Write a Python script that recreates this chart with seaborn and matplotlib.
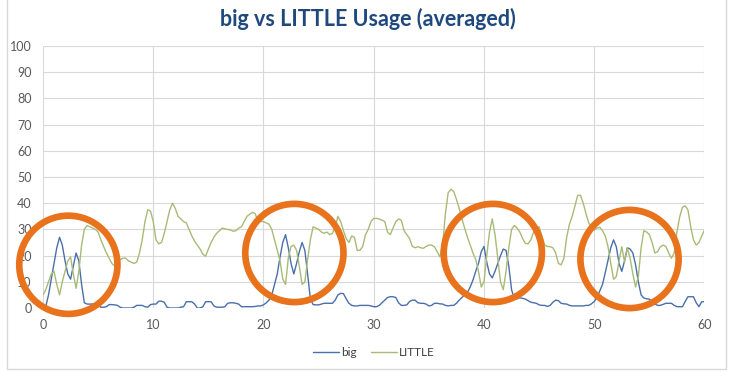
import numpy as np
import pandas as pd
import matplotlib
matplotlib.use('Agg')
import matplotlib.pyplot as plt
import seaborn as sns
from matplotlib.patches import Rectangle

# time axis, one reading every quarter unit
time = np.arange(0, 60.01, 0.25)

# LITTLE cluster usage (%)
little = [
    5, 7, 10, 13, 14, 9, 5, 10, 14, 18, 19.5, 13, 7.5, 14, 24, 30, 31.5, 31, 30.5, 30,
    29, 26, 23.5, 21, 19, 17, 16, 17.5, 18.5, 19, 19, 18, 17.5, 17, 17.5, 21, 26, 33, 37.5, 37,
    33, 26, 24.5, 25, 28.5, 33, 37.5, 40, 38, 35, 34, 33, 32.5, 30, 27.5, 25.5, 24, 22.5, 20.5, 19.8,
    22.5, 25, 27, 28.5, 29.5, 30.5, 30.2, 30, 29.8, 29.3, 29.5, 30.5, 31, 33, 35, 35.8, 36.5, 36, 33, 33,
    33, 32.5, 32, 30, 26, 22, 18, 11, 9, 19, 23.5, 24, 22, 16, 9, 10, 18.5, 26, 31, 30.5,
    30, 29, 28.5, 29, 28, 28.5, 31, 35, 33, 29.5, 26.5, 25, 27.5, 27, 22, 22, 23.5, 28, 30, 33,
    34.2, 34.2, 34, 33.5, 33, 29, 28, 30.5, 33, 34, 33.5, 29.5, 28, 26.5, 23.5, 23, 23.4, 23, 22.8, 23.5,
    24, 24, 23.4, 21.5, 19.5, 24, 36, 44, 45.3, 44.5, 41.5, 38, 34, 30.4, 27, 24, 21, 18.5, 14, 8,
    10, 20, 29, 34, 28, 19, 10, 7, 14, 23, 30, 31.5, 30.5, 29, 26.5, 24.7, 24.5, 26, 29, 30.5,
    31, 27.5, 24, 23.5, 23.4, 23, 21, 17, 16.5, 19, 27, 32, 35, 39, 43, 43, 40, 36, 32.5, 30.4,
    29.8, 30.5, 30.8, 29.5, 27.5, 23.4, 17, 11, 12, 18, 23.4, 17.5, 23, 19, 13, 8, 12, 23, 29.5, 29,
    28, 25, 21, 21.5, 23.4, 24, 23.5, 21, 19, 21, 29, 34.8, 38.5, 39, 37.4, 31, 26, 24, 25, 27.5,
    29.8,
]

# big cluster usage (%)
big = [
    0, 0.5, 5, 11, 17, 23, 27, 24, 18, 13, 11, 16, 21, 18, 9, 2, 1.5, 1.5, 1.5, 1.3,
    1, 0.3, 0.3, 0.5, 1.3, 1.3, 1.2, 1, 0.3, 0, 0, 0, 0, 0.3, 1, 1, 1, 0.5, 0.3, 1.3,
    1.5, 1.5, 2.6, 2.6, 2.2, 0.3, 0, 0, 0, 0, 0.3, 0.5, 2.4, 2.4, 2.4, 1.5, 0, 0, 0.5, 2.4,
    2.4, 2.4, 0.8, 0.3, 0.3, 0.3, 0.5, 1.8, 2, 2, 1.8, 1.5, 0.5, 0.5, 0.5, 0.5, 0.5, 0.6, 0.8, 0.8,
    1.2, 2, 3, 5, 9, 13, 19.5, 25, 28, 23, 17, 13, 17, 21.5, 25, 22, 13, 3.5, 1.3, 1.2,
    1.2, 1.5, 1.8, 1.8, 1.8, 1.8, 3, 5, 5.6, 5.5, 3.5, 1.8, 1, 0.8, 0.8, 1, 1, 1, 1, 0.8,
    0.5, 0.5, 1, 2, 3, 4, 4.3, 4.3, 4, 2, 1, 1, 1.2, 2.5, 3, 3, 2, 1.8, 1.8, 1.5,
    0.8, 1, 1.8, 1.8, 1.6, 1.5, 1, 0.8, 1, 1, 1.8, 3, 4, 5, 6, 8, 10.7, 14, 17, 21.5,
    23.5, 17.5, 13, 11.5, 14, 17, 20, 22.5, 22, 16, 7, 3.5, 3.5, 3.9, 3.7, 3.4, 2.8, 2.2, 2, 1.8,
    1.2, 1, 1, 0.6, 1, 2.2, 3, 2.8, 1.8, 1.6, 1.5, 1, 0.8, 0.8, 0.8, 0.8, 0.8, 1, 1, 1.6,
    2.5, 4, 6.5, 9, 13.5, 18.3, 23, 26, 23.4, 17, 14, 18, 23, 22.5, 21, 16.5, 10, 5, 3.8, 3.5,
    3.4, 2.2, 1.5, 1, 1, 1.4, 1.8, 1.8, 1.8, 1, 0.5, 0.5, 0.5, 2.5, 4.3, 4.3, 4.3, 2, 0.5, 2.4,
    2.4,
]

# highlighted bursts (circle centres)
circle_x = [2.3, 22.8, 40.8, 53.2]
circle_y = [16.5, 21, 21, 18.7]

df = pd.DataFrame({'time': np.concatenate([time, time]),
                   'usage': big + little,
                   'core': ['big'] * len(big) + ['LITTLE'] * len(little)})

sns.set_style('white')
plt.rcParams['font.family'] = ['Lato', 'DejaVu Sans']

fig = plt.figure(figsize=(7.35, 3.77), dpi=100)
ax = fig.add_axes([0.0585, 0.183, 0.900, 0.695])

sns.lineplot(data=df, x='time', y='usage', hue='core', ax=ax,
             palette={'big': '#4a6fab', 'LITTLE': '#a8bb76'}, linewidth=1.0)

# orange rings around the big bursts
ax.scatter(circle_x, circle_y, s=5000, facecolors='none', edgecolors='#e8731c',
           linewidths=4.8, zorder=5, clip_on=False)

ax.set_xlim(0, 60)
ax.set_ylim(0, 100)
ax.set_xticks(range(0, 61, 10))
ax.set_yticks(range(0, 101, 10))
ax.grid(True, color='#d9d9d9', linewidth=0.8)
for s in ax.spines.values():
    s.set_visible(False)
ax.tick_params(length=0, labelsize=9, labelcolor='#595959', pad=8)
ax.set_xlabel('')
ax.set_ylabel('')

fig.suptitle('big vs LITTLE Usage (averaged)', x=0.5, y=0.98,
             fontsize=15.5, fontweight='bold', color='#1f497d')

leg = ax.legend(loc='upper center', bbox_to_anchor=(0.5, -0.11), ncol=2,
                frameon=False, fontsize=8.5, handlelength=2.2, handletextpad=0.2,
                columnspacing=1.2)
for t in leg.get_texts():
    t.set_color('#404040')

# chart area border
fig.patches.append(Rectangle((7 / 735, 8 / 377), 719 / 735, 369 / 377 - 8 / 377 + 0.05,
                             transform=fig.transFigure, fill=False,
                             edgecolor='#d9d9d9', linewidth=1.0))

fig.savefig('out.png', dpi=100)
